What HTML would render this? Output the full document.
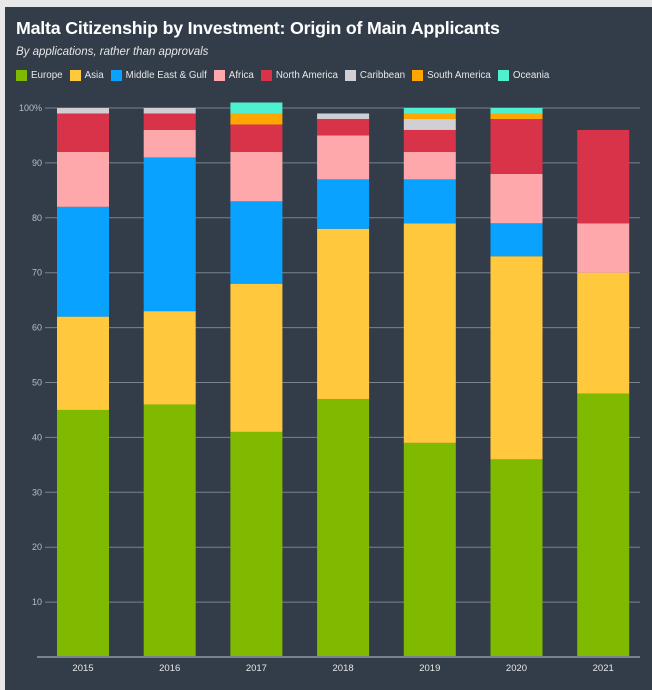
<!DOCTYPE html>
<html><head><meta charset="utf-8">
<style>
html,body{margin:0;padding:0;background:#e8e8e8;}
body{width:652px;height:690px;position:relative;overflow:hidden;font-family:"Liberation Sans",sans-serif;}
#panel{position:absolute;left:5px;top:7px;width:647px;height:683px;background:#333d4a;}
#title{position:absolute;left:11px;top:11px;color:#fff;font-weight:bold;font-size:17.8px;letter-spacing:-0.2px;}
#sub{position:absolute;left:11px;top:39px;color:#e6e6e6;font-style:italic;font-size:11.5px;}
#legend{position:absolute;left:11px;top:63px;display:flex;gap:7px;font-size:9.8px;color:#e6e6e6;}
.li{display:flex;align-items:center;gap:4px;}
.sw{width:11px;height:11px;display:inline-block;}
svg{position:absolute;left:0;top:0;}
</style></head><body>
<div id="panel">
<div id="title">Malta Citizenship by Investment: Origin of Main Applicants</div>
<div id="sub">By applications, rather than approvals</div>
<div id="legend"></div>
</div>
<svg id="chart" width="652" height="690"></svg>
<script>
const years=["2015","2016","2017","2018","2019","2020","2021"];
const seriesNames=["Europe","Asia","Middle East & Gulf","Africa","North America","Caribbean","South America","Oceania"];
const colors=["#7fba00","#ffc83d","#0aa2ff","#ffa8ab","#d9334a","#d0d0d4","#ffa600","#4ff0d0"];
const europe=[45,46,41,47,39,36,48];
const asia=[17,17,27,31,40,37,22];
const middleEast=[20,28,15,9,8,6,0];
const africa=[10,5,9,8,5,9,9];
const northAmerica=[7,3,5,3,4,10,17];
const caribbean=[1,1,0,1,2,0,0];
const southAmerica=[0,0,2,0,1,1,0];
const oceania=[0,0,2,0,1,1,0];
const yTicks=[10,20,30,40,50,60,70,80,90,100];
const series=[europe,asia,middleEast,africa,northAmerica,caribbean,southAmerica,oceania];

const NS="http://www.w3.org/2000/svg";
const svg=document.getElementById('chart');
const plotL=45,plotR=640,y0=657,pxPer=5.49;
const y=v=>y0-v*pxPer;
const step=86.7, bw=52;
const x=i=>57+i*step;
function mk(t,a){const e=document.createElementNS(NS,t);for(const k in a)e.setAttribute(k,a[k]);svg.appendChild(e);return e;}
yTicks.forEach(t=>{
  const g=mk('line',{x1:plotL,x2:plotR,y1:y(t),y2:y(t),stroke:'#7a828e','stroke-width':1});
  
  
  const l=mk('text',{x:plotL-3,y:y(t)+3,'text-anchor':'end','font-size':9,fill:'#b8bec6','font-family':'Liberation Sans, sans-serif'});
  l.textContent=t===100?'100%':t;
  
  
});
years.forEach((yr,i)=>{
  let cum=0;
  series.forEach((s,si)=>{
    const v=s[i]; if(!v)return;
    const r=mk('rect',{x:x(i),y:y(cum+v),width:bw,height:v*pxPer,fill:colors[si]});
    
    
    cum+=v;
  });
  const l=mk('text',{x:x(i)+bw/2,y:y0+14,'text-anchor':'middle','font-size':9.5,fill:'#e6e6e6','font-family':'Liberation Sans, sans-serif'});
  l.textContent=yr;
  
  
});
const ax=mk('line',{x1:plotL-8,x2:plotR,y1:y0,y2:y0,stroke:'#7a828e','stroke-width':2});


const lg=document.getElementById('legend');
seriesNames.forEach((n,i)=>{
  const d=document.createElement('span');d.className='li';
  
  
  d.innerHTML='<span class="sw" style="background:'+colors[i]+'"></span>'+n.replace('&','&amp;');
  lg.appendChild(d);
});
</script>
</body></html>
